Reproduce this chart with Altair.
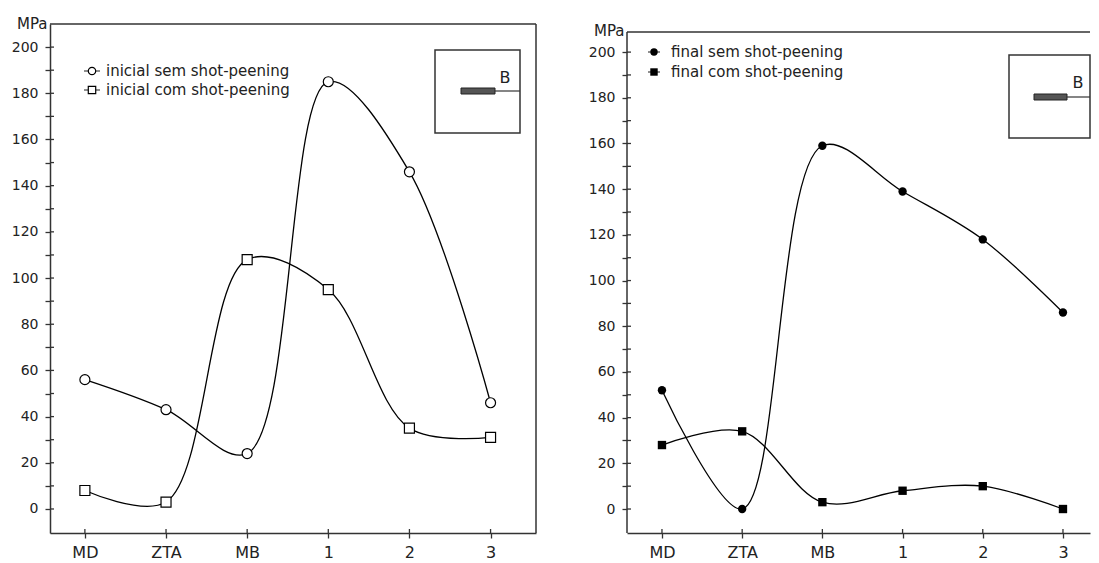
import altair as alt
import pandas as pd

# ---------------- data ----------------
categories = ["MD", "ZTA", "MB", "1", "2", "3"]
inicial_sem = [56, 43, 24, 185, 146, 46]
inicial_com = [8, 3, 108, 95, 35, 31]
final_sem = [52, 0, 159, 139, 118, 86]
final_com = [28, 34, 3, 8, 10, 0]
left_series = ["inicial sem shot-peening", "inicial com shot-peening"]
right_series = ["final sem shot-peening", "final com shot-peening"]
marker_shapes = ["circle", "square"]
y_tick_values = list(range(0, 201, 10))
x_tick_values = list(range(len(categories)))

FONT = "DejaVu Sans"
INK = "#333333"
TXT = "#222222"


def long_df(names, arrays):
    rows = []
    for name, vals in zip(names, arrays):
        for i, v in enumerate(vals):
            rows.append({"i": i, "cat": categories[i], "v": v, "s": name})
    return pd.DataFrame(rows)


one = pd.DataFrame({"a": [0]})
yt_df = pd.DataFrame({"t": y_tick_values})
xt_df = pd.DataFrame({"i": x_tick_values})


def point_mark(chart, filled, size_open=100, size_filled=70):
    if filled:
        return chart.mark_point(filled=True, color="black", size=size_filled, opacity=1)
    return chart.mark_point(filled=False, fill="white", color="black",
                            strokeWidth=1.2, size=size_open, opacity=1)


def panel(df, names, xdom, ydom, W, H, filled, leg, title_y, top_value,
          full_box, inset):
    xs = alt.Scale(domain=xdom, nice=False, zero=False)
    ys = alt.Scale(domain=ydom, nice=False, zero=False)
    x_axis = alt.Axis(values=x_tick_values, labelExpr=f"{categories}[datum.value]",
                      grid=False, tickSize=5, tickColor=INK, tickWidth=1.3,
                      domainColor=INK, domainWidth=1.5, labelFont=FONT,
                      labelFontSize=16, labelColor=TXT, labelPadding=6, title=None)
    y_axis = alt.Axis(values=y_tick_values,
                      labelExpr="datum.value % 20 == 0 ? datum.label : ''",
                      grid=False, tickSize=5, tickColor=INK, tickWidth=1.3,
                      domain=full_box, domainColor=INK, domainWidth=1.5,
                      labelFont=FONT, labelFontSize=14, labelColor=TXT, labelPadding=7,
                      title="MPa", titleAngle=0, titleAlign="right",
                      titleBaseline="alphabetic", titleX=-3, titleY=title_y,
                      titleFont=FONT, titleFontSize=15, titleFontWeight="normal",
                      titleColor=TXT)

    X = alt.X("i:Q", scale=xs, axis=x_axis)
    Y = alt.Y("v:Q", scale=ys, axis=y_axis)

    lines = alt.Chart(df).mark_line(interpolate="catmull-rom", color="black",
                                    strokeWidth=1.3).encode(x=X, y=Y, detail="s:N")

    shape = alt.Shape("s:N", scale=alt.Scale(domain=names, range=marker_shapes),
                      legend=None)
    pts = point_mark(alt.Chart(df), filled).encode(x=X, y=Y, shape=shape)

    # inward halves of the ticks (ticks cross the axis lines)
    yin = alt.Chart(yt_df).mark_rule(color=INK, strokeWidth=1.3).encode(
        y=alt.Y("t:Q", scale=ys, axis=y_axis), x=alt.value(0), x2=alt.value(4))
    xin = alt.Chart(xt_df).mark_rule(color=INK, strokeWidth=1.3).encode(
        x=alt.X("i:Q", scale=xs, axis=x_axis), y=alt.value(H), y2=alt.value(H - 4))

    frame = []
    if full_box:
        frame.append(alt.Chart(one).mark_rule(color=INK, strokeWidth=1.5).encode(
            x=alt.value(0), x2=alt.value(W), y=alt.value(0)))
        frame.append(alt.Chart(one).mark_rule(color=INK, strokeWidth=1.5).encode(
            x=alt.value(W), y=alt.value(0), y2=alt.value(H)))
    else:
        frame.append(alt.Chart(one).mark_rule(color=INK, strokeWidth=1.5).encode(
            x=alt.value(0), x2=alt.value(W), y=alt.YDatum(top_value, scale=ys, axis=y_axis)))
        frame.append(alt.Chart(one).mark_rule(color=INK, strokeWidth=1.5).encode(
            x=alt.value(0), y=alt.YDatum(top_value, scale=ys, axis=y_axis),
            y2=alt.value(H)))

    # legend (line-through-symbol entries)
    lx, ly0, dy, tx_off, seg = leg
    legend_layers = []
    for k, name in enumerate(names):
        ly = ly0 + k * dy
        legend_layers.append(alt.Chart(one).mark_rule(color=INK, strokeWidth=1.1).encode(
            x=alt.value(lx - seg), x2=alt.value(lx + seg), y=alt.value(ly)))
        legend_layers.append(point_mark(alt.Chart(one), filled, 55, 55).encode(
            x=alt.value(lx), y=alt.value(ly), shape=alt.value(marker_shapes[k])))
        legend_layers.append(alt.Chart(one).mark_text(
            text=name, font=FONT, fontSize=15, color=TXT, align="left",
            baseline="middle").encode(x=alt.value(lx + tx_off), y=alt.value(ly)))

    # inset sketch (specimen with point B)
    bx0, bx1, by0, by1, sx0, sx1, sy, tx, ty = inset
    box = alt.Chart(one).mark_rect(fill="white", stroke=INK, strokeWidth=1.5).encode(
        x=alt.value(bx0), x2=alt.value(bx1), y=alt.value(by0), y2=alt.value(by1))
    bar = alt.Chart(one).mark_rect(fill="#555555", stroke="#222222", strokeWidth=1).encode(
        x=alt.value(sx0), x2=alt.value(sx1), y=alt.value(sy - 3), y2=alt.value(sy + 3))
    wire = alt.Chart(one).mark_rule(color=INK, strokeWidth=1.2).encode(
        x=alt.value(sx1), x2=alt.value(bx1), y=alt.value(sy))
    btxt = alt.Chart(one).mark_text(text="B", font=FONT, fontSize=16, color=TXT,
                                    baseline="middle", align="center").encode(
        x=alt.value(tx), y=alt.value(ty))

    return alt.layer(lines, pts, yin, xin, *frame, *legend_layers,
                     box, bar, wire, btxt).properties(width=W, height=H)


left = panel(long_df(left_series, [inicial_sem, inicial_com]), left_series,
             [-0.43, 5.56], [-10.4, 210], 486, 509, False, (42, 47, 19, 14, 8),
             4, None, True,
             (385, 470, 26, 109, 411, 445, 67, 455, 54))
right = panel(long_df(right_series, [final_sem, final_com]), right_series,
              [-0.436, 5.337], [-10.5, 212.3], 463, 509, True, (27, 28, 20, 17, 6),
              11, 208.8, False,
              (382, 463, 31, 114, 407, 440, 73, 451, 59))

chart = alt.hconcat(left, right, spacing=51).resolve_scale(
    x="independent", y="independent", shape="independent"
).configure_view(stroke=None).properties(
    padding={"left": 3, "top": 8, "right": 0, "bottom": 0}, background="white")

chart.save("out.html", embed_options={"renderer": "svg", "actions": False})
